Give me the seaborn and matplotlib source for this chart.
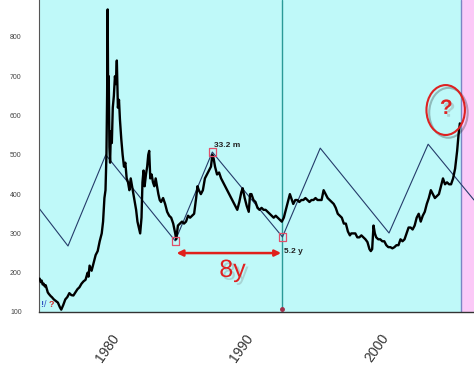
import numpy as np
import pandas as pd
import matplotlib
matplotlib.use("Agg")
import matplotlib.pyplot as plt
import matplotlib.patheffects as pe
from matplotlib.patches import Ellipse
import seaborn as sns

# ---- data ----
years = [
    1975.00, 1975.08, 1975.15, 1975.22, 1975.30, 1975.38, 1975.45, 1975.52, 1975.60, 1975.68,
    1975.75, 1975.83, 1975.90, 1976.05, 1976.20, 1976.35, 1976.50, 1976.60, 1976.75, 1976.90,
    1977.05, 1977.20, 1977.35, 1977.50, 1977.65, 1977.80, 1977.95, 1978.10, 1978.25, 1978.40,
    1978.55, 1978.62, 1978.70, 1978.85, 1979.00, 1979.15, 1979.30, 1979.45, 1979.60, 1979.70,
    1979.80, 1979.88, 1979.95, 1980.00, 1980.04, 1980.08, 1980.12, 1980.17, 1980.22, 1980.28,
    1980.35, 1980.42, 1980.50, 1980.58, 1980.65, 1980.72, 1980.80, 1980.88, 1980.95, 1981.05,
    1981.15, 1981.25, 1981.35, 1981.45, 1981.55, 1981.65, 1981.75, 1981.85, 1981.95, 1982.05,
    1982.15, 1982.25, 1982.35, 1982.45, 1982.55, 1982.62, 1982.70, 1982.78, 1982.88, 1982.97,
    1983.05, 1983.12, 1983.20, 1983.30, 1983.40, 1983.50, 1983.60, 1983.70, 1983.80, 1983.90,
    1984.00, 1984.15, 1984.30, 1984.45, 1984.60, 1984.75, 1984.90, 1985.05, 1985.12, 1985.25,
    1985.40, 1985.55, 1985.70, 1985.85, 1986.00, 1986.15, 1986.30, 1986.45, 1986.60, 1986.70,
    1986.80, 1986.95, 1987.10, 1987.25, 1987.40, 1987.55, 1987.70, 1987.80, 1987.90, 1988.00,
    1988.15, 1988.30, 1988.45, 1988.60, 1988.75, 1988.90, 1989.05, 1989.20, 1989.35, 1989.50,
    1989.65, 1989.80, 1989.95, 1990.05, 1990.20, 1990.35, 1990.50, 1990.60, 1990.70, 1990.85,
    1991.00, 1991.15, 1991.30, 1991.45, 1991.60, 1991.75, 1991.90, 1992.05, 1992.20, 1992.35,
    1992.50, 1992.65, 1992.80, 1992.95, 1993.10, 1993.25, 1993.40, 1993.55, 1993.65, 1993.80,
    1993.95, 1994.10, 1994.25, 1994.40, 1994.55, 1994.70, 1994.85, 1995.00, 1995.15, 1995.30,
    1995.45, 1995.60, 1995.75, 1995.90, 1996.05, 1996.20, 1996.35, 1996.50, 1996.65, 1996.80,
    1996.95, 1997.10, 1997.25, 1997.40, 1997.55, 1997.70, 1997.85, 1998.00, 1998.10, 1998.25,
    1998.40, 1998.55, 1998.70, 1998.85, 1999.00, 1999.15, 1999.30, 1999.45, 1999.55, 1999.65,
    1999.75, 1999.85, 1999.95, 2000.10, 2000.25, 2000.40, 2000.55, 2000.70, 2000.85, 2001.00,
    2001.15, 2001.30, 2001.45, 2001.60, 2001.75, 2001.90, 2002.05, 2002.20, 2002.35, 2002.50,
    2002.65, 2002.80, 2002.95, 2003.10, 2003.25, 2003.40, 2003.55, 2003.70, 2003.85, 2004.00,
    2004.15, 2004.30, 2004.45, 2004.60, 2004.75, 2004.90, 2005.05, 2005.20, 2005.35, 2005.50,
    2005.65, 2005.80, 2005.95, 2006.05, 2006.15,
]
price = [
    185, 176, 180, 170, 172, 165, 168, 160, 150, 146,
    143, 140, 138, 132, 128, 124, 112, 106, 118, 132,
    138, 148, 143, 142, 150, 158, 163, 172, 178, 182,
    200, 190, 218, 205, 225, 245, 255, 280, 300, 330,
    390, 410, 500, 650, 870, 620, 700, 520, 480, 560,
    530, 620, 650, 700, 680, 740, 620, 640, 590, 540,
    500, 470, 480, 440, 430, 410, 440, 420, 400, 380,
    360, 330, 315, 300, 340, 430, 460, 420, 450, 470,
    500, 510, 440, 450, 430, 420, 440, 420, 400, 385,
    380, 390, 375, 355, 345, 340, 325, 300, 285, 320,
    325, 330, 325, 330, 345, 340, 345, 350, 390, 420,
    410, 400, 410, 440, 450, 460, 470, 500, 490, 470,
    450, 455, 440, 430, 420, 410, 400, 390, 380, 370,
    360, 380, 405, 415, 390, 370, 355, 400, 400, 385,
    380, 365, 360, 365, 360, 360, 355, 350, 345, 340,
    345, 340, 335, 330, 340, 360, 380, 400, 390, 375,
    385, 385, 380, 385, 385, 390, 385, 380, 385, 385,
    390, 385, 385, 385, 410, 400, 390, 385, 380, 375,
    365, 350, 345, 340, 325, 325, 305, 295, 300, 300,
    300, 290, 290, 295, 290, 285, 278, 260, 255, 260,
    320, 300, 290, 285, 285, 280, 280, 270, 265, 265,
    262, 265, 270, 270, 285, 280, 285, 300, 315, 315,
    310, 320, 340, 350, 330, 345, 355, 375, 390, 410,
    400, 390, 395, 400, 420, 440, 425, 430, 425, 425,
    440, 465, 510, 550, 580,
]

zig_years = [1975.0, 1977.1, 1979.9, 1985.05, 1987.8, 1993.0, 1995.8, 2000.9, 2003.8, 2007.2]
zig_vals = [362, 268, 500, 281, 507, 291, 517, 301, 527, 385]

pivot_years = [1985.05, 1987.8, 1993.0]
pivot_vals = [281, 507, 291]

cycle_line = 1993.0
future_start = 2006.2
x_min, x_max = 1974.95, 2007.2
y_min, y_max = 100, 894

xtick_major = [1975, 1980, 1985, 1990, 1995, 2000, 2005]
xtick_labels = ["", "1980", "", "1990", "", "2000", ""]
ytick_vals = [100, 200, 300, 400, 500, 600, 700, 800]

df_price = pd.DataFrame({"year": years, "price": price})
df_zig = pd.DataFrame({"year": zig_years, "val": zig_vals})
df_piv = pd.DataFrame({"year": pivot_years, "val": pivot_vals})

# ---- figure ----
sns.set_style("white")
plt.rcParams["font.family"] = ["Liberation Sans", "DejaVu Sans"]

fig = plt.figure(figsize=(4.74, 3.66), dpi=100)
ax = fig.add_axes([39 / 474, 1 - 312 / 366, 1 - 39 / 474, 312 / 366])
ax.set_facecolor("#bff9f9")

ax.axvspan(future_start, x_max, color="#fbc9f7", zorder=0, lw=0)
ax.axvline(future_start, color="#7a86c4", lw=1.0, zorder=1)
ax.axvline(cycle_line, color="#2a9a98", lw=1.0, zorder=1)

sns.lineplot(data=df_zig, x="year", y="val", ax=ax, color="#253c6a", lw=0.8,
             sort=False, zorder=2)
sns.lineplot(data=df_price, x="year", y="price", ax=ax, color="black", lw=1.7,
             sort=False, zorder=3)
sns.scatterplot(data=df_piv, x="year", y="val", ax=ax, marker="s", s=28,
                facecolor="none", edgecolor="#e0506a", linewidth=0.9, zorder=4)

ax.plot([cycle_line], [108], marker="o", ms=2.5, color="#a0304a", zorder=4, clip_on=False)

# annotations
ax.text(pivot_years[1] + 0.1, pivot_vals[1] + 8, "33.2 m", fontsize=6, color="#222222",
        fontweight="bold", va="bottom", ha="left")
ax.text(pivot_years[2] + 0.1, pivot_vals[2] - 38, "5.2 y", fontsize=6, color="#222222",
        fontweight="bold", va="center", ha="left")
ax.annotate("", xy=(pivot_years[0] + 0.1, 250), xytext=(pivot_years[2] - 0.1, 250),
            arrowprops=dict(arrowstyle="<|-|>", color="#e0201c", lw=1.8,
                            mutation_scale=9, shrinkA=0, shrinkB=0))
shadow = [pe.withSimplePatchShadow(offset=(2, -2), shadow_rgbFace="#666666", alpha=0.25)]
ax.text(1989.3, 207, "8y", fontsize=18, color="#e02020", ha="center", va="center",
        path_effects=shadow)

ell = Ellipse((2005.1, 614), width=2.85, height=127, facecolor="none",
              edgecolor="#dd2222", lw=1.5, zorder=5,
              path_effects=[pe.SimpleLineShadow(offset=(2, -2), alpha=0.25), pe.Normal()])
ax.add_patch(ell)
ax.text(2005.15, 618, "?", fontsize=15, color="#dd2222", ha="center", va="center",
        fontweight="bold", path_effects=shadow, zorder=6)

ax.text(1975.05, 118, "!", fontsize=6.5, color="#3050c0", fontweight="bold", ha="left", va="center")
ax.text(1975.35, 118, "/", fontsize=6.5, color="#3050c0", ha="left", va="center")
ax.text(1975.65, 118, "?", fontsize=6.5, color="#d03030", fontweight="bold", ha="left", va="center")

# axes
ax.set_xlim(x_min, x_max)
ax.set_ylim(y_min, y_max)
ax.set_xlabel("")
ax.set_ylabel("")
ax.set_xticks(xtick_major)
ax.set_xticklabels(xtick_labels, rotation=55, ha="center", fontsize=10, color="#333333")
ax.set_xticks(list(range(1975, 2008)), minor=True)
ax.tick_params(axis="x", which="major", direction="out", length=9, width=1.0, color="#333333", pad=5)
ax.tick_params(axis="x", which="minor", direction="out", length=4, width=0.9, color="#333333")
for t, lab in zip(ax.xaxis.get_major_ticks(), xtick_labels):
    if lab:
        t.tick1line.set_color("#e06070")
        t.tick1line.set_markersize(11)
ax.set_yticks(ytick_vals)
ax.set_yticklabels([str(v) for v in ytick_vals], fontsize=5, color="#444444")
ax.tick_params(axis="y", direction="out", length=5, width=0.8, color="#777777", pad=7.5)

for s in ["top", "right"]:
    ax.spines[s].set_visible(False)
ax.spines["left"].set_color("#555555")
ax.spines["left"].set_linewidth(0.8)
ax.spines["bottom"].set_color("#333333")
ax.spines["bottom"].set_linewidth(1.0)

fig.savefig("out.png", dpi=100)
